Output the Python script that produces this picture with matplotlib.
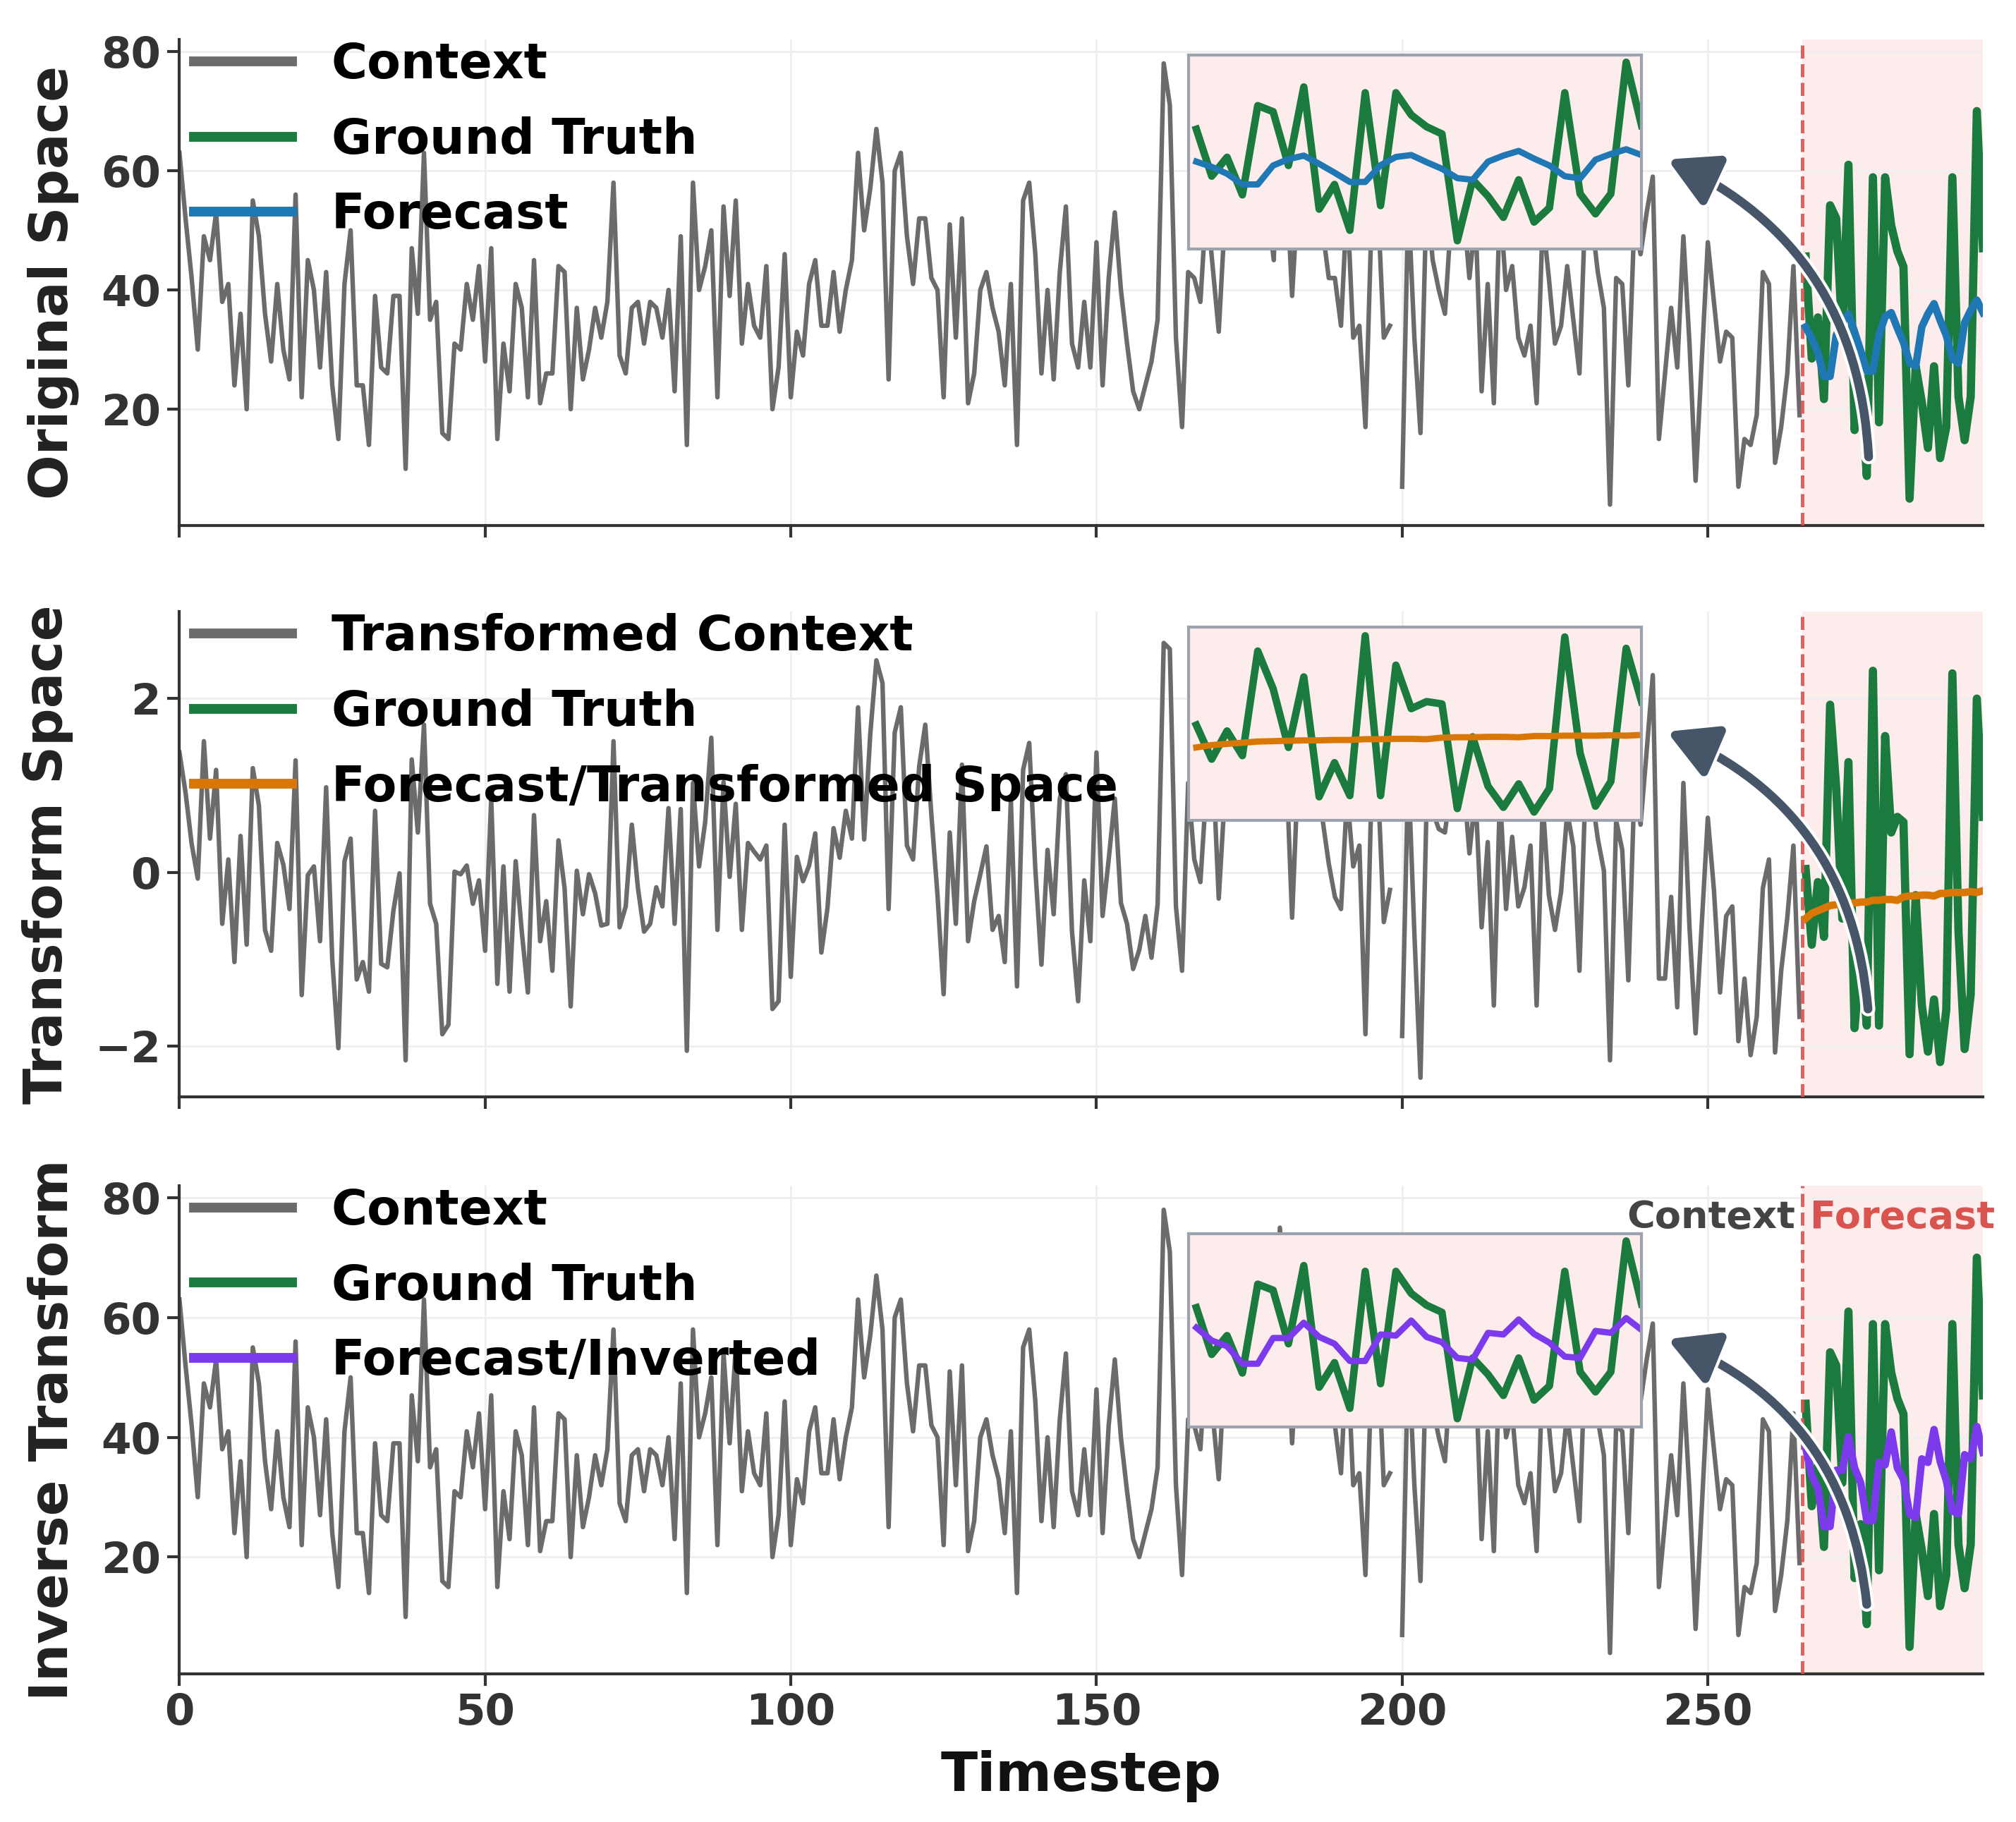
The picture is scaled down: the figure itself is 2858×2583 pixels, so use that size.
import numpy as np
import matplotlib
matplotlib.use('Agg')
import matplotlib.pyplot as plt
from matplotlib.patches import FancyArrowPatch
import matplotlib.patheffects as pe

plt.rcParams['font.family'] = ['DejaVu Sans']
plt.rcParams['font.weight'] = 'bold'
plt.rcParams['axes.labelweight'] = 'bold'

nan = np.nan
# ---------------- data ----------------
context = [63, 52, 42, 30, 49, 45, 53, 38, 41, 24,
           36, 20, 55, 49, 36, 28, 41, 30, 25, 56,
           22, 45, 40, 27, 43, 24, 15, 41, 50, 24,
           24, 14, 39, 27, 26, 39, 39, 10, 47, 36,
           63, 35, 38, 16, 15, 31, 30, 41, 35, 44,
           28, 47, 15, 31, 23, 41, 37, 22, 45, 21,
           26, 26, 44, 43, 20, 37, 25, 30, 37, 32,
           38, 58, 29, 26, 37, 38, 31, 38, 37, 32,
           40, 23, 49, 14, 58, 40, 44, 50, 22, 54,
           39, 55, 31, 41, 34, 32, 44, 20, 27, 46,
           22, 33, 29, 41, 45, 34, 34, 43, 33, 40,
           45, 63, 50, 57, 67, 58, 25, 60, 63, 49,
           41, 52, 52, 42, 40, 22, 51, 32, 52, 21,
           26, 40, 43, 37, 33, 24, 41, 14, 55, 58,
           46, 26, 40, 25, 43, 54, 31, 27, 38, 27,
           48, 24, 42, 53, 40, 31, 23, 20, 24, 28,
           35, 78, 71, 32, 17, 43, 42, 38, 55, 44,
           33, 52, 58, 64, 50, 56, 62, 68, 54, 45,
           75, 60, 39, 57, 63, 52, 58, 50, 42, 42,
           34, 55, 32, 34, 17, 52, 55, 32, 34, nan,
           7, 55, 32, 16, 56, 45, 40, 36, 52, 58,
           54, 42, 52, 23, 41, 21, 55, 40, 44, 32,
           29, 34, 21, 52, 42, 31, 34, 44, 35, 26,
           55, 52, 43, 37, 4, 42, 41, 24, 52, 46,
           53, 59, 15, 26, 37, 27, 49, 31, 8, 28,
           48, 38, 28, 33, 32, 7, 15, 14, 19, 43,
           41, 11, 17, 26, 44, 19]

context_tf = [1.38, 0.92, 0.33, -0.07, 1.51, 0.39, 1.18, -0.59, 0.15, -1.03,
              0.42, -0.83, 1.20, 0.77, -0.66, -0.90, 0.34, 0.09, -0.42, 1.29,
              -1.41, -0.03, 0.07, -0.79, 0.98, -1.00, -2.02, 0.13, 0.39, -1.23,
              -1.03, -1.37, 0.71, -1.05, -1.09, -0.44, -0.01, -2.16, 1.30, 0.46,
              1.70, -0.36, -0.59, -1.86, -1.75, 0.01, -0.02, 0.08, -0.36, -0.09,
              -0.90, 0.85, -1.28, 0.07, -1.37, 0.13, -0.68, -1.38, 0.66, -0.79,
              -0.33, -1.13, 0.37, -0.18, -1.54, 0.02, -0.48, -0.02, -0.24, -0.61,
              -0.59, 1.51, -0.63, -0.39, 0.55, -0.18, -0.68, -0.59, -0.17, -0.39,
              0.74, -0.59, 0.73, -2.05, 1.03, 0.07, 0.58, 1.55, -0.66, 1.04,
              -0.05, 0.79, -0.66, 0.34, 0.24, 0.15, 0.31, -1.57, -1.48, 0.55,
              -1.20, 0.18, -0.10, 0.08, 0.45, -0.92, -0.41, 0.51, 0.17, 0.71,
              0.39, 1.90, 0.38, 1.59, 2.44, 2.18, -0.42, 1.61, 1.90, 0.31,
              0.15, 1.22, 1.70, 0.66, -0.26, -1.40, 0.46, -0.59, 1.24, -0.79,
              -0.33, -0.02, 0.30, -0.66, -0.50, -1.03, 0.83, -1.31, 1.18, 1.49,
              0.04, -1.06, 0.26, -0.48, 0.85, 1.13, -0.68, -1.48, -0.09, -0.79,
              1.38, -0.50, 0.15, 0.85, -0.35, -0.59, -1.11, -0.89, -0.50, -0.98,
              -0.37, 2.64, 2.57, -0.39, -1.13, 1.03, 0.15, -0.11, 1.00, 1.30,
              -0.30, 0.90, 1.20, 1.60, 0.80, 1.10, 1.40, 1.80, 1.00, 0.70,
              2.00, 1.30, -0.52, 1.20, 1.50, 0.90, 1.20, 0.60, 0.10, -0.28,
              -0.42, 0.90, 0.07, 0.31, -1.86, 1.00, 1.10, -0.57, -0.20, nan,
              -1.88, 1.20, -0.70, -2.36, 0.80, 0.70, 0.50, 0.46, 1.00, 1.20,
              1.10, 0.22, 0.90, -0.63, 0.35, -1.53, 0.90, -0.42, 0.41, -0.39,
              -0.17, 0.31, -1.53, 0.80, -0.26, -0.66, -0.22, 0.70, 0.30, -1.13,
              1.00, 0.90, 0.39, 0.02, -2.16, 0.60, 0.26, -1.24, 1.00, 0.55,
              1.40, 2.27, -1.22, -1.22, -0.28, -1.55, 1.03, -0.63, -1.85, -0.60,
              0.63, -0.20, -1.38, -0.50, -0.39, -1.94, -1.22, -2.10, -1.66, -0.18,
              0.15, -2.07, -1.13, -0.52, 0.31, -1.66]

ground_truth = [45.6, 28.5, 35.4, 21.7, 54.2, 52.0, 32.4, 61.0, 16.5, 25.5,
                8.8, 58.9, 17.8, 58.9, 50.8, 46.5, 43.9, 5.0, 27.2, 21.2,
                13.5, 27.2, 11.8, 17.0, 58.9, 22.1, 14.8, 22.1, 70.0, 47.0]

ground_truth_tf = [0.04, -0.83, -0.11, -0.74, 1.93, 0.97, -0.53, 1.27, -1.79, -0.92,
                   -1.76, 2.32, -1.76, 1.57, 0.46, 0.64, 0.58, -2.09, -0.26, -1.52,
                   -2.06, -1.46, -2.18, -1.58, 2.29, -0.68, -2.03, -1.40, 2.00, 0.64]

forecast = [33.8, 31.9, 29.4, 25.5, 25.5, 32.4, 34.7, 36.0, 33.0, 29.8,
            26.4, 26.4, 32.5, 35.5, 36.2, 33.6, 31.2, 27.8, 27.2, 33.8,
            36.0, 37.7, 34.9, 32.4, 28.5, 27.7, 34.5, 36.6, 38.3, 36.2]

forecast_tf = [-0.53, -0.47, -0.44, -0.41, -0.38, -0.37, -0.36, -0.35, -0.35, -0.34,
               -0.34, -0.32, -0.32, -0.31, -0.31, -0.32, -0.28, -0.27, -0.27, -0.26,
               -0.26, -0.27, -0.24, -0.24, -0.23, -0.23, -0.23, -0.22, -0.23, -0.21]

forecast_inv = [38.3, 33.6, 31.5, 25.1, 25.1, 34.5, 34.5, 40.1, 34.9, 32.4,
                26.1, 26.1, 35.8, 35.4, 40.9, 34.9, 33.0, 27.2, 26.6, 36.4,
                35.8, 41.3, 36.0, 32.8, 27.7, 27.2, 37.1, 36.4, 41.8, 37.5]

x_ticks = [0, 50, 100, 150, 200, 250]

# ---------------- styling ----------------
C_CTX = '#6b6b6b'
C_GT = '#1b7a3e'
C_FC = '#1f77b4'
C_TF = '#d97706'
C_INV = '#7c3aed'
C_ARROW = '#475569'
C_RED = '#d9534f'
C_SHADE = '#fdecec'
C_INSET_EDGE = '#9ca3af'

n_ctx = len(context)
t_ctx = np.arange(n_ctx)
t_fc = np.arange(n_ctx, n_ctx + len(ground_truth))
split = n_ctx - 0.5
x_end = t_fc[-1]

fig = plt.figure(figsize=(2858 / 200, 2583 / 200), dpi=200)
left, width = 0.089, 0.8946
ax1 = fig.add_axes([left, 0.7116, width, 0.2667])
ax2 = fig.add_axes([left, 0.3980, width, 0.2663])
ax3 = fig.add_axes([left, 0.0813, width, 0.2679])

panels = [
    dict(ax=ax1, ctx=context, gt=ground_truth, fc=forecast, fc_color=C_FC,
         labels=['Context', 'Ground Truth', 'Forecast'], ylabel='Original Space',
         ylim=(0.5, 82.0), yticks=[20, 40, 60, 80],
         inset=[0.5596, 0.569, 0.2511, 0.399], inset_ylim=(2.0, 72.6),
         arrow=((276.3, 12.0), (243.4, 61.9))),
    dict(ax=ax2, ctx=context_tf, gt=ground_truth_tf, fc=forecast_tf, fc_color=C_TF,
         labels=['Transformed Context', 'Ground Truth', 'Forecast/Transformed Space'],
         ylabel='Transform Space', ylim=(-2.58, 3.0), yticks=[-2, 0, 2],
         inset=[0.5596, 0.570, 0.2511, 0.398], inset_ylim=(-2.39, 2.54),
         arrow=((276.2, -1.57), (243.3, 1.62))),
    dict(ax=ax3, ctx=context, gt=ground_truth, fc=forecast_inv, fc_color=C_INV,
         labels=['Context', 'Ground Truth', 'Forecast/Inverted'], ylabel='Inverse Transform',
         ylim=(0.5, 82.0), yticks=[20, 40, 60, 80],
         inset=[0.5596, 0.506, 0.2511, 0.396], inset_ylim=(2.0, 72.7),
         arrow=((276.0, 12.1), (243.4, 56.4))),
]

for p in panels:
    ax = p['ax']
    ax.axvspan(split, x_end, color=C_SHADE, zorder=0, lw=0)
    ax.grid(True, color='#efefef', lw=1.0, zorder=0)
    ax.set_axisbelow(True)
    l1, = ax.plot(t_ctx, p['ctx'], color=C_CTX, lw=2.3, zorder=2, label=p['labels'][0])
    l2, = ax.plot(t_fc, p['gt'], color=C_GT, lw=4.2, zorder=3, label=p['labels'][1])
    l3, = ax.plot(t_fc, p['fc'], color=p['fc_color'], lw=3.8, zorder=4, label=p['labels'][2])
    ax.axvline(split, color=C_RED, ls='--', lw=1.8, alpha=0.9, zorder=3)
    ax.set_xlim(0, x_end)
    ax.set_ylim(*p['ylim'])
    ax.set_yticks(p['yticks'])
    ax.set_xticks(x_ticks)
    for s in ['top', 'right']:
        ax.spines[s].set_visible(False)
    for s in ['left', 'bottom']:
        ax.spines[s].set_color('#333333')
        ax.spines[s].set_linewidth(1.5)
    ax.tick_params(axis='both', colors='#333333', labelsize=22, width=1.5, length=6,
                   direction='out')
    ax.set_ylabel(p['ylabel'], fontsize=27, fontweight='bold', color='#222222',
                  labelpad=11)

    leg = ax.legend(handles=[l1, l2, l3], loc='upper left', bbox_to_anchor=(0.0, 1.027),
                    frameon=False, fontsize=25, borderaxespad=0.3, borderpad=0.0,
                    handlelength=2.0, handletextpad=0.8, labelspacing=0.57)
    for t in leg.get_texts():
        t.set_fontweight('bold')
    for ln in leg.get_lines():
        ln.set_linewidth(5)
    leg.set_zorder(7)

    # inset
    ins = ax.inset_axes(p['inset'])
    ins.set_zorder(5)
    ins.set_facecolor(C_SHADE)
    ins.plot(t_fc, p['gt'], color=C_GT, lw=3.8)
    ins.plot(t_fc, p['fc'], color=p['fc_color'], lw=3.2)
    ins.set_xlim(split, x_end)
    ins.set_ylim(*p['inset_ylim'])
    ins.set_xticks([])
    ins.set_yticks([])
    for s in ins.spines.values():
        s.set_color(C_INSET_EDGE)
        s.set_linewidth(1.5)

    # arrow
    tail, head = p['arrow']
    arr = FancyArrowPatch(tail, head, connectionstyle='arc3,rad=0.3',
                          arrowstyle='-|>,head_length=0.4,head_width=0.22',
                          mutation_scale=52, color=C_ARROW, lw=4.5, zorder=6,
                          shrinkA=0, shrinkB=0, capstyle='round')
    arr.set_path_effects([pe.Stroke(linewidth=7.5, foreground='white'), pe.Normal()])
    ax.add_patch(arr)

ax1.tick_params(labelbottom=False)
ax2.tick_params(labelbottom=False)
ax3.set_xlabel('Timestep', fontsize=27.5, fontweight='bold', color='#111111', labelpad=8)

ax3.text(split - 1.2, 76.7, 'Context', ha='right', va='center', fontsize=19.5,
         fontweight='bold', color='#444444', zorder=8)
ax3.text(split + 1.2, 76.7, 'Forecast', ha='left', va='center', fontsize=19.5,
         fontweight='bold', color=C_RED, zorder=8, clip_on=False)

fig.savefig('out.png', dpi=200)
